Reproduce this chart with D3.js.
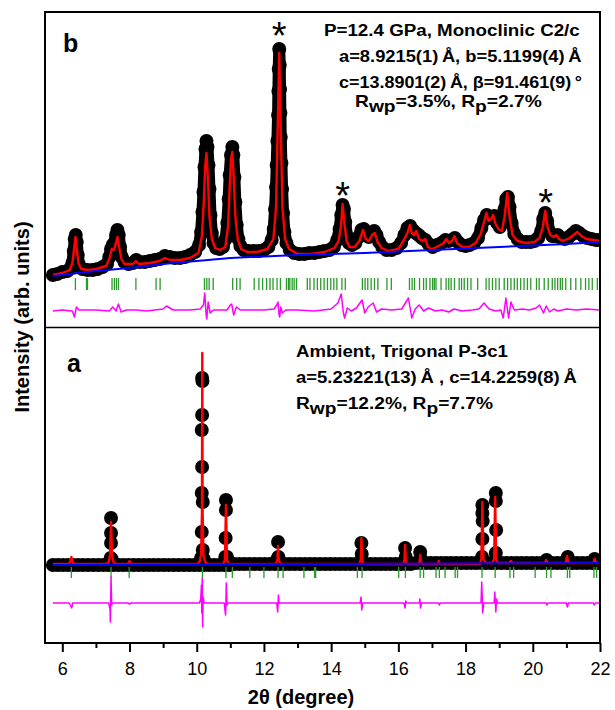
<!DOCTYPE html>
<html><head><meta charset="utf-8">
<script src="https://cdn.jsdelivr.net/npm/d3@7"></script>
<style>body{margin:0;background:#fff}svg{display:block}text{font-family:"Liberation Sans",Arial,sans-serif}</style>
</head><body><svg id="c" width="615" height="710"></svg>
<script>
// ---------- DATA ----------
const xMajor = [6,8,10,12,14,16,18,20,22];
const xMinor = [7,9,11,13,15,17,19,21];

// Panel b (12.4 GPa, monoclinic) : [2theta, intensity]
const obsB = [[5.72,52],[5.85,53],[6.0,55],[6.15,56],[6.25,59],[6.3,64],[6.34,76],[6.37,88],[6.4,92],[6.43,85],[6.46,72],[6.5,62],[6.6,58],[6.75,57],[6.9,57],[7.05,58],[7.2,60],[7.33,63],[7.4,70],[7.45,78],[7.5,82],[7.55,84],[7.6,92],[7.64,97],[7.68,92],[7.72,80],[7.77,70],[7.85,65],[7.97,63],[8.1,64],[8.2,67],[8.3,65],[8.45,65],[8.6,66],[8.75,67],[8.9,68],[9.05,71],[9.2,70],[9.35,69],[9.5,69],[9.65,70],[9.8,72],[9.95,75],[10.07,82],[10.13,95],[10.17,115],[10.2,135],[10.23,160],[10.26,178],[10.29,186],[10.32,180],[10.35,162],[10.38,138],[10.41,112],[10.45,94],[10.5,84],[10.58,79],[10.68,78],[10.78,80],[10.86,88],[10.91,104],[10.95,128],[10.98,152],[11.02,172],[11.06,180],[11.09,172],[11.12,150],[11.15,125],[11.19,102],[11.24,88],[11.3,81],[11.4,77],[11.55,76],[11.7,76],[11.85,76],[12.0,77],[12.13,80],[12.23,87],[12.29,98],[12.33,118],[12.36,140],[12.38,162],[12.4,186],[12.42,212],[12.43,236],[12.44,258],[12.455,278],[12.47,262],[12.48,238],[12.49,214],[12.5,190],[12.52,164],[12.54,138],[12.57,114],[12.61,95],[12.67,84],[12.77,77],[12.9,74],[13.05,73],[13.2,73],[13.35,74],[13.5,74],[13.65,75],[13.8,76],[13.95,77],[14.08,80],[14.18,87],[14.25,98],[14.3,112],[14.34,122],[14.38,118],[14.42,105],[14.47,91],[14.53,84],[14.62,82],[14.72,84],[14.82,90],[14.9,97],[14.97,98],[15.04,92],[15.12,90],[15.2,93],[15.28,96],[15.35,92],[15.43,85],[15.52,80],[15.65,77],[15.8,77],[15.95,79],[16.08,84],[16.18,92],[16.27,99],[16.35,101],[16.43,97],[16.52,94],[16.6,92],[16.7,89],[16.8,87],[16.9,83],[17.02,80],[17.15,82],[17.28,84],[17.4,87],[17.5,86],[17.6,87],[17.68,89],[17.77,85],[17.88,82],[18.0,81],[18.12,82],[18.25,84],[18.37,89],[18.47,99],[18.55,107],[18.63,112],[18.71,109],[18.79,110],[18.86,111],[18.94,104],[19.02,100],[19.1,106],[19.16,118],[19.21,128],[19.26,130],[19.31,120],[19.37,104],[19.45,93],[19.55,88],[19.67,85],[19.8,85],[19.93,85],[20.05,86],[20.16,89],[20.25,96],[20.31,108],[20.37,114],[20.43,106],[20.5,95],[20.58,91],[20.66,91],[20.74,92],[20.84,89],[20.95,88],[21.07,90],[21.18,93],[21.28,96],[21.38,94],[21.5,91],[21.62,89],[21.75,88],[21.88,87],[22.0,87]];
const calcB = [[5.72,52],[6.0,54],[6.22,57],[6.3,64],[6.35,78],[6.39,90],[6.43,78],[6.48,64],[6.56,58],[6.8,57],[7.0,58],[7.3,61],[7.4,68],[7.47,78],[7.53,77],[7.58,82],[7.64,90],[7.69,80],[7.76,68],[7.85,63],[8.1,63],[8.19,66],[8.28,63],[8.6,64],[8.9,66],[9.05,69],[9.2,67],[9.5,67],[9.8,69],[10.05,74],[10.15,90],[10.21,125],[10.25,160],[10.29,174],[10.33,150],[10.38,110],[10.45,88],[10.55,79],[10.7,77],[10.85,80],[10.93,100],[10.98,140],[11.02,168],[11.06,175],[11.1,150],[11.15,110],[11.22,88],[11.32,78],[11.5,75],[11.8,75],[12.1,78],[12.28,88],[12.36,120],[12.41,200],[12.455,274],[12.5,200],[12.55,120],[12.63,88],[12.75,78],[13.0,73],[13.4,73],[13.8,75],[14.1,79],[14.22,86],[14.29,100],[14.34,123],[14.39,105],[14.46,86],[14.55,80],[14.7,80],[14.84,86],[14.95,97],[15.03,88],[15.12,86],[15.22,92],[15.3,94],[15.38,85],[15.5,79],[15.7,76],[16.0,78],[16.15,86],[16.28,95],[16.34,102],[16.4,94],[16.47,92],[16.53,96],[16.62,88],[16.72,86],[16.8,88],[16.88,80],[17.0,78],[17.2,81],[17.35,84],[17.43,88],[17.5,84],[17.6,86],[17.67,91],[17.74,84],[17.9,80],[18.1,80],[18.3,84],[18.45,93],[18.55,105],[18.62,114],[18.68,106],[18.76,108],[18.82,112],[18.88,104],[18.98,98],[19.08,96],[19.16,110],[19.24,134],[19.31,110],[19.4,92],[19.55,86],[19.8,84],[20.05,85],[20.2,89],[20.3,100],[20.37,116],[20.44,100],[20.52,92],[20.62,90],[20.7,92],[20.78,88],[20.9,86],[21.1,89],[21.25,93],[21.33,95],[21.45,91],[21.6,88],[21.8,87],[22.0,86]];
const bgB = [[5.72,51],[7,56],[8,59],[9,63],[10,66],[11,69],[12,70.5],[13,72],[14,73],[15,74],[16,75.5],[17,77],[18,78.5],[19,80],[20,81.5],[21,83],[22,85]];
const diffB = [[5.72,16],[6.0,17],[6.3,16],[6.36,10],[6.42,20],[6.5,17],[7.0,17],[7.4,16],[7.5,20],[7.6,16],[7.67,23],[7.75,15],[7.9,17],[8.2,17],[8.5,16],[9.0,18],[9.1,21],[9.3,17],[9.8,17],[10.1,18],[10.2,22],[10.24,34],[10.28,12],[10.3,8],[10.34,25],[10.4,14],[10.5,17],[10.9,17],[11.0,22],[11.04,23],[11.1,12],[11.18,20],[11.3,17],[12.0,17],[12.3,18],[12.38,22],[12.42,25],[12.45,12],[12.47,10],[12.5,20],[12.55,14],[12.65,17],[13.0,17],[13.5,16],[14.0,18],[14.2,24],[14.3,33],[14.36,15],[14.4,9],[14.48,19],[14.6,16],[14.75,19],[14.92,27],[15.0,14],[15.1,20],[15.25,24],[15.35,15],[15.5,18],[15.8,17],[16.1,18],[16.3,29],[16.4,9],[16.5,18],[16.62,22],[16.75,16],[16.9,19],[17.1,16],[17.3,17],[17.5,15],[17.65,18],[17.9,16],[18.2,17],[18.4,18],[18.55,24],[18.7,18],[18.9,16],[19.05,17],[19.12,9],[19.2,29],[19.28,9],[19.35,25],[19.45,17],[19.7,18],[19.9,17],[20.1,19],[20.2,22],[20.32,14],[20.4,21],[20.5,15],[20.62,18],[20.75,16],[21.0,18],[21.3,17],[21.6,18],[22.0,17]];
const reflB = [6.39,6.72,6.75,7.48,7.55,7.61,7.67,8.19,8.79,8.91,10.23,10.30,10.37,10.49,11.07,11.19,11.29,11.71,11.85,11.96,12.08,12.18,12.27,12.39,12.49,12.67,12.73,12.77,12.84,12.90,12.97,13.29,13.37,13.49,13.59,13.69,13.79,13.89,13.99,14.08,14.17,14.32,14.42,14.93,15.01,15.09,15.19,15.29,15.39,15.66,15.79,16.33,16.41,16.48,16.63,16.75,16.83,16.94,17.02,17.07,17.12,17.27,17.42,17.50,17.57,17.67,17.81,17.88,17.96,18.06,18.16,18.36,18.61,18.70,18.80,18.90,19.00,19.15,19.25,19.35,19.45,19.54,19.64,19.74,19.84,19.94,20.11,20.19,20.34,20.46,20.58,20.66,20.74,20.82,20.88,20.98,21.13,21.28,21.43,21.57,21.67,21.77,21.92];
const starsB = [[12.45,300],[14.34,140],[20.38,133]];

// Panel a (ambient, trigonal)
const obsAStart = 5.72, obsAStep = 0.15;
const obsABase = [78,78,78,78,78,78,78,78,78,78,78,78,78,78,78,78,78,78,78,78,78,78,78,78,78,78,78,78,78,78,78,78,78,78,78,78,79,79,79,79,79,79,79,79,79,79,79,79,79,79,79,79,79,79,79,79,79,79,79,79,79,79,79,79,79,79,79,79,79,79,79,79,80,80,80,80,80,80,80,80,80,80,80,80,80,80,80,80,80,80,80,80,80,80,80,80,80,80,80,80,80,80,80,80,80,80,80,80,80];
const obsAPeaks = [[7.45,125],[7.45,110],[7.45,100],[7.44,85],[7.47,84],[10.16,265],[10.17,262],[10.16,228],[10.15,213],[10.16,176],[10.15,150],[10.18,141],[10.15,111],[10.18,93],[10.13,85],[10.21,84],[10.87,143],[10.87,133],[10.86,105],[10.85,86],[10.9,86],[12.42,101],[12.43,86],[12.40,84],[14.9,100],[14.91,89],[16.2,95],[16.22,86],[16.65,91],[16.67,84],[18.5,138],[18.5,130],[18.51,122],[18.5,104],[18.49,86],[18.9,150],[18.9,142],[18.91,113],[18.9,90],[20.41,83],[21.04,86],[21.84,84]];
const calcA = [[5.72,79],[6.15,79],[6.22,80],[6.27,86],[6.32,80],[6.4,79],[7.3,79],[7.38,81],[7.42,88],[7.45,121],[7.48,88],[7.52,81],[7.6,79],[7.95,79],[8.0,82],[8.05,79],[10.0,79],[10.08,81],[10.13,88],[10.155,130],[10.165,290],[10.175,130],[10.2,88],[10.25,81],[10.33,79],[10.78,79],[10.84,83],[10.87,138],[10.9,83],[10.96,79],[12.35,79],[12.4,83],[12.42,97],[12.44,83],[12.49,79],[14.84,79],[14.88,83],[14.9,105],[14.92,83],[14.96,79],[16.15,79],[16.18,83],[16.2,98],[16.22,83],[16.25,79],[16.6,79],[16.63,81],[16.65,88],[16.67,81],[16.7,79],[17.17,79],[17.2,82],[17.23,79],[18.43,79],[18.47,84],[18.5,141],[18.53,84],[18.6,80],[18.8,80],[18.85,84],[18.88,146],[18.91,84],[18.96,80],[19.3,80],[19.35,82],[19.4,80],[20.36,80],[20.4,83],[20.44,80],[20.98,80],[21.02,87],[21.06,80],[21.8,80],[21.84,84],[21.88,80],[22.0,80]];
const bgA = [[5.72,78],[12,78.8],[22,80]];
const diffA = [[5.72,40],[6.2,40],[6.25,37],[6.28,35],[6.31,40],[7.38,40],[7.42,34],[7.43,21],[7.45,66],[7.47,38],[7.5,40],[7.95,40],[8.0,39],[8.05,40],[10.08,40],[10.12,44],[10.14,58],[10.15,30],[10.165,65],[10.175,16],[10.19,46],[10.22,40],[10.82,40],[10.85,30],[10.86,28],[10.88,60],[10.9,38],[10.93,40],[12.38,40],[12.41,31],[12.43,48],[12.45,40],[14.86,40],[14.89,46],[14.91,33],[14.94,40],[16.17,40],[16.2,35],[16.22,42],[16.25,40],[16.62,40],[16.64,44],[16.66,35],[16.69,40],[17.2,40],[17.22,38],[17.25,40],[18.46,40],[18.48,61],[18.51,30],[18.54,40],[18.85,40],[18.87,51],[18.9,31],[18.92,44],[18.95,40],[20.4,40],[20.42,38],[20.45,40],[21.0,40],[21.03,36],[21.06,40],[21.8,40],[21.83,38],[21.86,40],[22.0,40]];
const reflA = [6.27,7.45,7.99,10.17,10.87,11.06,11.58,12.0,12.42,12.57,13.19,13.51,13.54,14.78,14.92,16.01,16.21,16.65,16.75,17.12,17.22,17.39,17.69,17.76,18.49,18.88,19.32,19.43,20.07,20.41,20.54,21.03,21.10,21.82,21.90];
const reflTickB = [37,49], reflTickA = [65,76];

// ---------- CHART ----------
const svg = d3.select('#c');
const L = 45, R = 600, T = 12, MID = 327.5, B = 643;
const x = d3.scaleLinear().domain([5.485, 22]).range([L, R]);
const yB = d3.scaleLinear().domain([0, 315]).range([327, 12]);
const yA = d3.scaleLinear().domain([0, 315]).range([643, 328]);

const defs = svg.append('defs');
defs.append('clipPath').attr('id','clipB').append('rect').attr('x',L).attr('y',T).attr('width',R-L).attr('height',MID-T);
defs.append('clipPath').attr('id','clipA').append('rect').attr('x',L).attr('y',MID).attr('width',R-L).attr('height',B-MID);

function panel(clip, y, obsPts, thick, calc, bg, diff, refl, tickRange){
  const g = svg.append('g').attr('clip-path', `url(#${clip})`);
  const line = d3.line().x(d=>x(d[0])).y(d=>y(d[1]));
  if (thick) g.append('path').attr('d', line(obsPts)).attr('fill','none').attr('stroke','#000').attr('stroke-width',12).attr('stroke-linejoin','round').attr('stroke-linecap','round');
  g.selectAll(null).data(obsPts).enter().append('circle')
    .attr('cx', d=>x(d[0])).attr('cy', d=>y(d[1])).attr('r', 7).attr('fill','#000');
  g.append('path').attr('d', line(calc)).attr('fill','none').attr('stroke','#ff0000').attr('stroke-width',2.4).attr('stroke-linejoin','round');
  g.append('path').attr('d', line(bg)).attr('fill','none').attr('stroke','#0000ff').attr('stroke-width',2);
  g.selectAll(null).data(refl).enter().append('line')
    .attr('x1', d=>x(d)).attr('x2', d=>x(d)).attr('y1', y(tickRange[0])).attr('y2', y(tickRange[1]))
    .attr('stroke','#2a9a2a').attr('stroke-width',1.3);
  g.append('path').attr('d', line(diff)).attr('fill','none').attr('stroke','#ff00ff').attr('stroke-width',1.5).attr('stroke-linejoin','round');
}

panel('clipB', yB, obsB, true, calcB, bgB, diffB, reflB, reflTickB);
const obsA = obsABase.map((v,i)=>[obsAStart + i*obsAStep, v]).concat(obsAPeaks);
panel('clipA', yA, obsA, false, calcA, bgA, diffA, reflA, reflTickA);

// stars
svg.selectAll(null).data(starsB).enter().append('text')
  .attr('x', d=>x(d[0])).attr('y', d=>yB(d[1])+22).attr('text-anchor','middle')
  .attr('font-size',38).attr('fill','#000').text('*');

// frame
svg.append('rect').attr('x',L).attr('y',T).attr('width',R-L).attr('height',B-T).attr('fill','none').attr('stroke','#000').attr('stroke-width',2);
svg.append('line').attr('x1',L).attr('x2',R).attr('y1',MID).attr('y2',MID).attr('stroke','#000').attr('stroke-width',1.5);

// x axis
const ax = svg.append('g').attr('transform',`translate(0,${B})`)
  .call(d3.axisBottom(x).tickValues(xMajor).tickSize(9).tickPadding(10).tickFormat(d3.format('d')));
ax.select('.domain').remove();
ax.selectAll('line').attr('stroke','#000').attr('stroke-width',2);
ax.selectAll('text').attr('font-size',18).attr('font-family','"Liberation Sans",Arial,sans-serif').attr('fill','#000');
const axm = svg.append('g').attr('transform',`translate(0,${B})`)
  .call(d3.axisBottom(x).tickValues(xMinor).tickSize(5).tickFormat(''));
axm.select('.domain').remove();
axm.selectAll('line').attr('stroke','#000').attr('stroke-width',2);

// axis titles
svg.append('text').attr('x',301).attr('y',704).attr('text-anchor','middle').attr('font-size',20).attr('font-weight','bold').text('2θ (degree)');
svg.append('text').attr('transform','translate(29,317) rotate(-90)').attr('text-anchor','middle').attr('font-size',20).attr('font-weight','bold').text('Intensity (arb. units)');

// panel letters
svg.append('text').attr('x',63).attr('y',52).attr('font-size',25).attr('font-weight','bold').text('b');
svg.append('text').attr('x',67).attr('y',372).attr('font-size',25).attr('font-weight','bold').text('a');

function fit(t, x0, width){
  const w = t.node().getBBox().width;
  t.attr('transform', `translate(${x0},0) scale(${width/w},1)`);
}
function plain(str, x0, yb, width, fs){
  const t = svg.append('text').attr('x',0).attr('y',yb).attr('font-size',fs).attr('font-weight','bold').text(str);
  fit(t, x0, width);
}
function rline(parts, x0, yb, width, fs){
  const t = svg.append('text').attr('x',0).attr('y',yb).attr('font-size',fs).attr('font-weight','bold');
  parts.forEach(p=>{ t.append('tspan').attr('dy', p[1]).text(p[0]); });
  fit(t, x0, width);
}
plain('P=12.4 GPa, Monoclinic C2/c', 324, 36, 256, 16);
plain('a=8.9215(1)\u2009Å, b=5.1199(4)\u2009Å', 339, 62, 243, 16);
plain('c=13.8901(2)\u2009Å, β=91.461(9)\u2009°', 339, 88, 243, 16);
rline([['R',0],['wp',5],['=3.5%, R',-5],['p',5],['=2.7%',-5]], 355, 107, 187, 16);

plain('Ambient, Trigonal P-3c1', 296, 357, 212, 17);
plain('a=5.23221(13)\u2009Å , c=14.2259(8)\u2009Å', 296, 383, 281, 17);
rline([['R',0],['wp',5],['=12.2%, R',-5],['p',5],['=7.7%',-5]], 296, 409, 197, 17);
</script></body></html>
